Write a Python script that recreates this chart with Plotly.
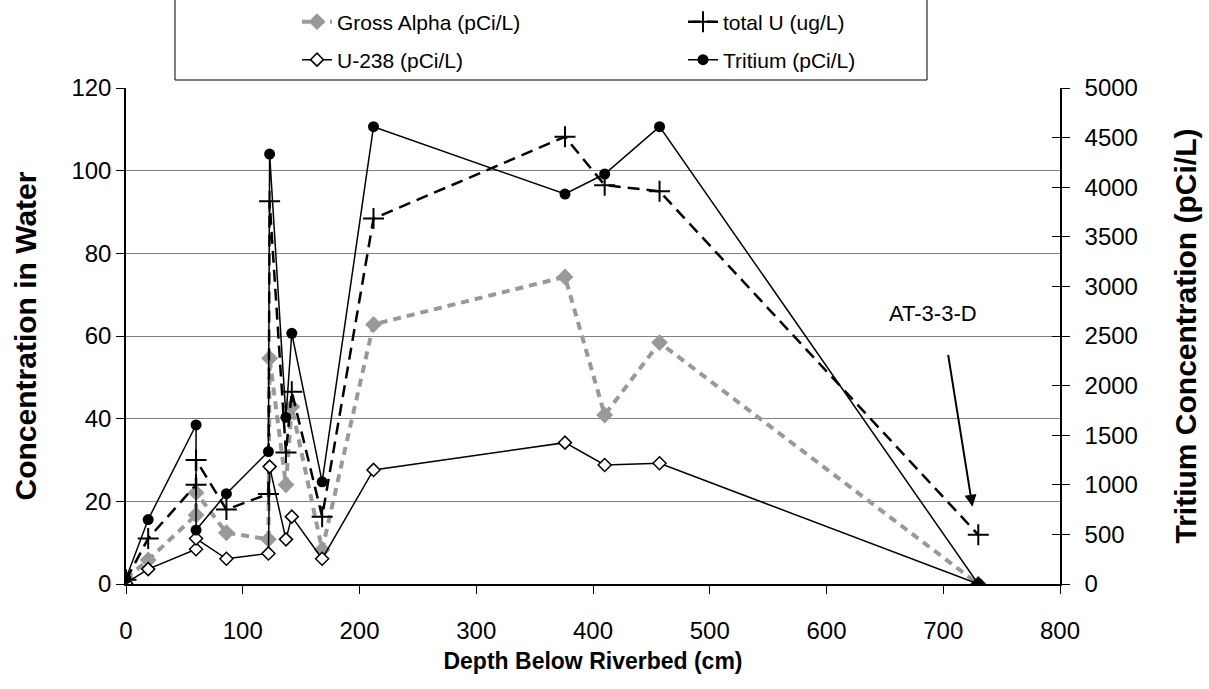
import plotly.graph_objects as go

depth = [0, 19, 60, 60, 86, 122, 123, 137, 142, 168, 212, 376, 410, 457, 730]
gross_alpha = [1.4, 5.8, 16.7, 22.1, 12.4, 10.8, 54.6, 24.0, 42.9, 8.3, 62.8, 74.3, 40.9, 58.4, 0]
total_u = [1.0, 11.0, 24.0, 30.0, 18.0, 21.8, 92.6, 31.8, 46.5, 16.3, 88.4, 108.2, 96.5, 95.0, 11.9]
u238 = [0.2, 3.6, 8.4, 11.0, 6.1, 7.4, 28.4, 10.8, 16.3, 6.1, 27.6, 34.2, 28.8, 29.2, 0]
tritium = [55, 650, 1603, 544, 910, 1335, 4334, 1680, 2527, 1030, 4610, 3931, 4133, 4610, 0]

FONT = "Arial, Liberation Sans, sans-serif"

fig = go.Figure()
fig.add_trace(go.Scatter(
    x=depth, y=gross_alpha, name="Gross Alpha (pCi/L)", mode="lines+markers",
    line=dict(color="#999999", width=4, dash="8px,6px"),
    marker=dict(symbol="diamond", size=13, color="#999999"),
    legend="legend"))
fig.add_trace(go.Scatter(
    x=depth, y=total_u, name="total U (ug/L)", mode="lines+markers",
    line=dict(color="black", width=2.5, dash="12px,7px"),
    marker=dict(symbol="cross-thin", size=15, color="black",
                line=dict(color="black", width=2)),
    legend="legend"))
fig.add_trace(go.Scatter(
    x=depth, y=u238, name="U-238 (pCi/L)", mode="lines+markers",
    line=dict(color="black", width=1.5),
    marker=dict(symbol="diamond", size=10, color="white",
                line=dict(color="black", width=1.5)),
    legend="legend2"))
fig.add_trace(go.Scatter(
    x=depth, y=tritium, name="Tritium (pCi/L)", mode="lines+markers",
    line=dict(color="black", width=1.5),
    marker=dict(symbol="circle", size=11, color="black"),
    yaxis="y2", legend="legend2"))
# helper trace (no visible points) so the inner tick marks of the right axis are drawn
fig.add_trace(go.Scatter(x=[0], y=[None], yaxis="y3", mode="markers",
                         showlegend=False, hoverinfo="skip"))

L, R, T, B = 126, 149, 88, 105
W, H = 1209, 689
pw, ph = W - L - R, H - T - B

def px(xp):
    return (xp - L) / pw

def py(yp):
    return (H - B - yp) / ph

leg_common = dict(orientation="h", xanchor="left", yanchor="middle",
                  entrywidth=341, entrywidthmode="pixels",
                  bgcolor="rgba(0,0,0,0)", font=dict(size=21),
                  itemclick=False, itemdoubleclick=False)

fig.update_layout(
    width=W, height=H,
    margin=dict(l=L, r=R, t=T, b=B, autoexpand=False),
    paper_bgcolor="white", plot_bgcolor="white",
    font=dict(family=FONT, color="black", size=22),
    xaxis=dict(range=[0, 800], dtick=100, showgrid=False, zeroline=False,
               showline=True, linecolor="black", linewidth=1.5,
               ticks="outside", ticklen=8, tickcolor="black",
               ticklabelstandoff=16,
               tickfont=dict(size=24),
               title=dict(text="<b>Depth Below Riverbed (cm)</b>",
                          font=dict(size=23), standoff=10)),
    yaxis=dict(range=[0, 120], dtick=20, showgrid=True, gridcolor="#808080",
               gridwidth=1, zeroline=False, showline=True, linecolor="black",
               linewidth=1.5, ticks="outside", ticklen=8, tickcolor="black",
               tickfont=dict(size=24),
               title=dict(text="<b>Concentration in Water</b>",
                          font=dict(size=30), standoff=26)),
    yaxis2=dict(range=[0, 5000], dtick=500, overlaying="y", side="right",
                showgrid=False, zeroline=False, showline=True,
                linecolor="black", linewidth=1.5, ticks="outside",
                ticklen=8, tickcolor="black", ticklabelstandoff=10,
                tickfont=dict(size=24),
                title=dict(text="<b>Tritium Concentration (pCi/L)</b>",
                           font=dict(size=30), standoff=38)),
    yaxis3=dict(range=[0, 5000], dtick=500, overlaying="y", side="right",
                anchor="x", visible=True, showgrid=False, zeroline=False,
                showline=False, ticks="inside", ticklen=8, tickwidth=1,
                tickcolor="black", showticklabels=False),
    legend=dict(x=px(297), y=py(22), **leg_common),
    legend2=dict(x=px(297), y=py(60), **leg_common),
    shapes=[dict(type="rect", xref="paper", yref="paper",
                 x0=px(175), x1=px(927), y0=py(80), y1=py(-2),
                 line=dict(color="black", width=1), fillcolor="rgba(0,0,0,0)")],
    annotations=[
        dict(x=725, y=18.7, ax=704, ay=55.8, xref="x", yref="y",
             axref="x", ayref="y", text="", showarrow=True,
             arrowhead=2, arrowsize=1.2, arrowwidth=2, arrowcolor="black"),
        dict(x=691, y=65.5, xref="x", yref="y", text="AT-3-3-D",
             showarrow=False, font=dict(size=22)),
    ],
)

fig.write_html("out.html")
